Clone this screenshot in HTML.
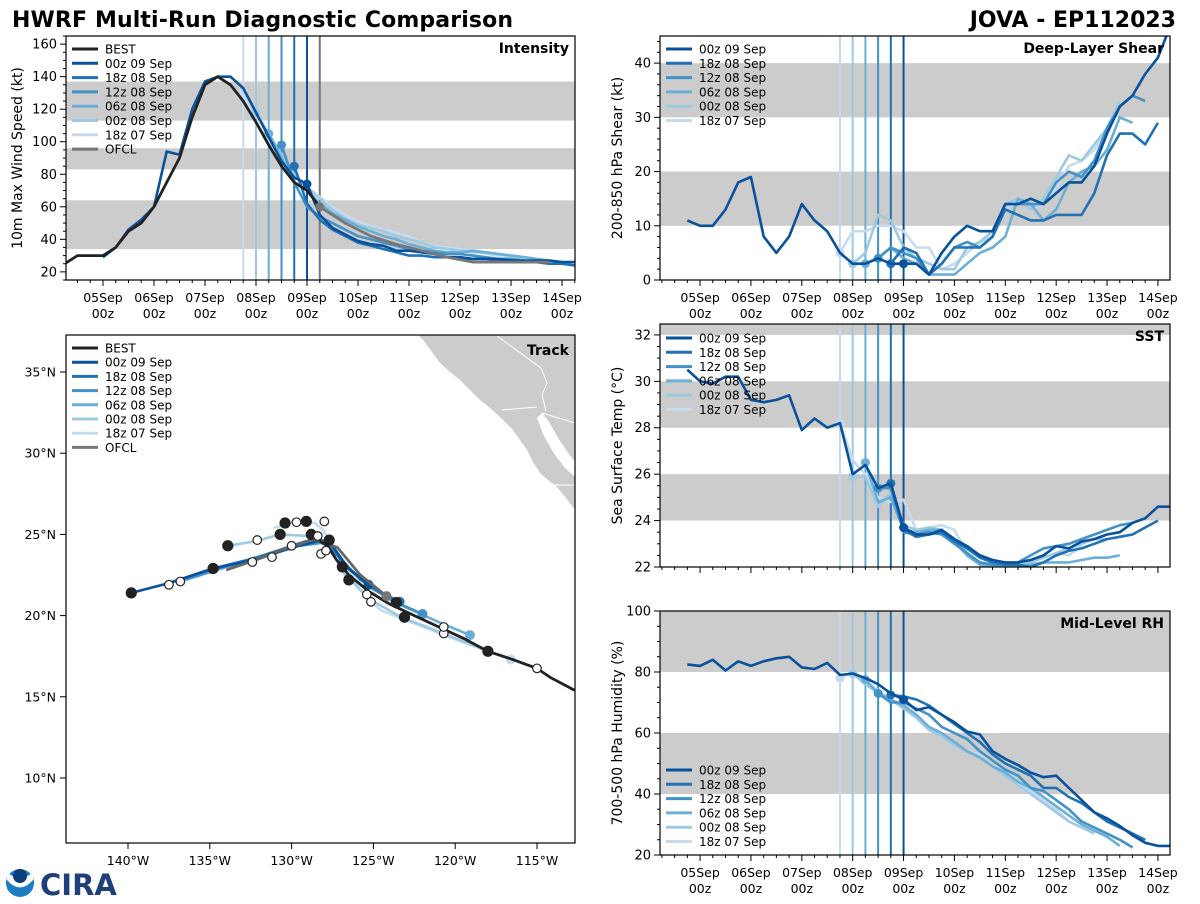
<!DOCTYPE html>
<html><head><meta charset="utf-8">
<style>
html,body{margin:0;padding:0;background:#fff;}
body{width:1200px;height:900px;overflow:hidden;position:relative;font-family:"DejaVu Sans","Liberation Sans",sans-serif;}
svg text{font-family:"DejaVu Sans","Liberation Sans",sans-serif;}
</style></head>
<body>
<svg id="fig" width="1200" height="900" viewBox="0 0 1200 900" xmlns="http://www.w3.org/2000/svg">
<text x="12" y="27" font-size="22" font-weight="bold" fill="#000" textLength="501">HWRF Multi-Run Diagnostic Comparison</text>
<text x="1176" y="27" font-size="22" font-weight="bold" fill="#000" text-anchor="end">JOVA - EP112023</text>
<g>
<circle cx="20" cy="883" r="14" fill="#1a7dc4"/>
<path d="M7 880 Q20 895 33 880 L33 872 Q20 884 7 872 Z" fill="#fff"/>
<circle cx="20" cy="876" r="7" fill="#0b3d7a"/>
<text x="40" y="895" font-size="29" font-weight="bold" fill="#1f3f7a" font-family="Liberation Serif,serif">CIRA</text>
</g>
</svg>
<script>
// ===== DATA =====
const runLabels = ["00z 09 Sep","18z 08 Sep","12z 08 Sep","06z 08 Sep","00z 08 Sep","18z 07 Sep"];
const runInit = [96, 90, 84, 78, 72, 66]; // hours from 05Sep 00z
const runColors = ["#08519c","#2171b5","#4292c6","#6baed6","#9ecae1","#c6dbef"];
const dayLabels = ["05Sep","06Sep","07Sep","08Sep","09Sep","10Sep","11Sep","12Sep","13Sep","14Sep"];

// Intensity (kt), 6-hourly from start hour
const bestStart = -18;
const bestVmax = [25,30,30,30,35,45,50,60,75,90,115,135,140,135,125,112,98,85,75,70,60];
const ofclStart = 102;
const ofclVmax = [60,50,42,37,33,29,26,26,26,26]; // 12-hourly
const intStarts = [0, 90, 84, 78, 72, 66];
const int00z09 = [29,35,46,52,60,94,92,120,137,140,140,133,118,103,88,78,74,55,47,43,39,37,36,33,33,32,31,29,29,28,28,28,27,27,27,27,26,26,26];
const int18z08 = [85,62,52,46,42,38,36,34,32,30,30,29,29,28,28,28,27,27,26,26,25,25,24];
const int12z08 = [98,75,60,54,50,46,42,40,38,36,34,33,32,31,31,30,29,28,28,27,26,25,25];
const int06z08 = [105,90,75,70,62,56,52,48,45,42,40,37,35,33,32,32,33,32,31,30,29,28,27];
const int00z08 = [118,105,92,80,72,65,58,53,49,47,45,42,40,38,35,34,33,32,32,31,30,29,28];
const int18z07 = [130,112,100,90,80,72,66,60,55,51,48,46,44,42,38,36,35,34,33,31,30,29,28];

// Shear (kt)
const shrStarts = [-6, 90, 84, 78, 72, 66];
const shr00z09 = [11,10,10,13,18,19,8,5,8,14,11,9,5,3,3,4,3,3,3,1,5,8,10,9,9,14,14,15,14,16,18,18,21,27,32,34,38,41,47];
const shr18z08 = [3,6,5,1,3,6,6,6,8,13,12,11,11,12,12,12,16,23,27,27,25,29];
const shr12z08 = [4,6,5,4,1,3,6,7,6,8,14,14,14,14,18,20,19,22,28,32,34,33];
const shr06z08 = [3,4,6,4,3,1,1,1,3,5,6,8,15,14,11,13,18,20,21,24,30,29];
const shr00z08 = [3,5,12,11,6,4,3,2,2,6,7,9,14,15,13,15,19,23,22,25,28,33];
const shr18z07 = [5,9,9,10,10,9,6,6,2,3,5,7,8,13,15,13,14,17,21,22,24,28,33];

// SST (C)
const sstStarts = [-6, 90, 84, 78, 72, 66];
const sst00z09 = [30.5,30.0,29.9,30.2,30.2,29.2,29.1,29.2,29.4,27.9,28.4,28.0,28.2,26.0,26.4,25.4,25.6,23.7,23.4,23.4,23.6,23.2,22.9,22.5,22.3,22.2,22.2,22.3,22.5,22.9,22.8,23.1,23.2,23.4,23.5,23.9,24.1,24.6,24.6];
const sst18z08 = [25.6,23.6,23.3,23.4,23.5,23.1,22.8,22.4,22.2,22.1,22.1,22.0,22.2,22.5,22.7,22.8,23.0,23.2,23.3,23.4,23.7,24.0];
const sst12z08 = [25.4,25.4,23.5,23.4,23.5,23.4,23.0,22.6,22.2,22.1,22.1,22.2,22.5,22.8,22.9,23.0,23.2,23.4,23.6,23.8,23.9];
const sst06z08 = [26.5,24.8,25.0,23.6,23.5,23.6,23.6,23.1,22.5,22.1,22.0,22.0,22.0,22.1,22.2,22.2,22.2,22.3,22.4,22.4,22.5];
const sst00z08 = [25.9,25.9,24.6,25.2,23.8,23.6,23.7,23.6,23.2,22.6,22.1,22.0,22.0,22.1,22.2,22.4,22.6,22.8,23.0,23.2,23.2];
const sst18z07 = [28.2,26.6,26.0,25.0,24.8,24.9,23.6,23.7,23.8,23.6,22.6,22.2,22.1,22.0,22.1,22.2,22.4,22.6,22.5,22.9];

// Mid-level RH (%)
const rhStarts = [-6, 90, 84, 78, 72, 66];
const rh00z09 = [82.5,82,84,80.5,83.5,82,83.5,84.5,85,81.5,81,83,79,79.5,78,76,73,71,67.5,68.5,66,63.5,60.5,59.5,54,51.5,49.5,47,45.5,46,42,38,34,32,29.5,26.5,24,23,23];
const rh18z08 = [72.5,72,71,69,66,63,60,57,53,50,48,46,42,42,39,37,34,31,29,27,25];
const rh12z08 = [73,70,70,68,66,62,60,58,54,51,48,46,42,41,38,35,31,29,27,25,22.5];
const rh06z08 = [77.5,73,71,69,66,62,60,57,54,52,49,47,44,42,39,36,33,30,28,26,23];
const rh00z08 = [79.5,76,73,71,68,65,61,59,56,54,52,49,46,43,40,37,34,31,29,27];
const rh18z07 = [78,80,77,74,71,68,66,62,59,57,54,53,51,48,44,41,38,35,31];

// Track (lon, lat)
const trkBestLon = [-112.7,-114.2,-115,-116.5,-118,-119.5,-121,-122.5,-124,-125.3,-126.5,-127.3,-127.8,-128.3];
const trkBestLat = [15.4,16.2,16.75,17.3,17.8,18.6,19.3,20.0,20.7,21.5,22.5,23.5,24.3,24.6];
const trkOfclLon = [-124.2,-125.8,-127.2,-128.6,-130.5,-132,-134];
const trkOfclLat = [21.2,22.5,24.2,24.7,24.1,23.5,22.8];
const trk00z09Lon = [-125.3,-126.6,-127.5,-128.3,-130,-132,-134.8,-137.5,-139.8];
const trk00z09Lat = [21.9,23.0,24.3,24.6,24.2,23.5,22.9,22.0,21.4];
const trk18z08Lon = [-123.4,-125.2,-126.7,-127.6,-128.4,-130,-132,-134.8,-137.5];
const trk18z08Lat = [20.85,21.8,23.0,24.3,24.8,24.3,23.6,22.9,22.0];
const trk12z08Lon = [-122,-124,-125.8,-127,-128,-129.5,-131.5,-134,-136.5];
const trk12z08Lat = [20.1,21.0,22.2,23.5,24.5,24.3,23.7,23.0,22.2];
const trk06z08Lon = [-119.1,-121,-123,-125,-126.5,-127.5,-128.5,-130.5,-132.5,-134];
const trk06z08Lat = [18.8,19.6,20.5,21.6,22.9,24.2,24.6,24.1,23.5,23.0];
const trk00z08Lon = [-118.0,-120.7,-123.3,-125.2,-126.8,-127.7,-129,-130.7,-132.1,-133.9];
const trk00z08Lat = [17.8,18.9,19.9,21.0,22.6,24.2,24.9,25.0,24.6,24.3];
const trk18z07Lon = [-116.6,-118.5,-120.7,-122.7,-124.5,-125.5,-126.6,-127.6,-128.1,-128.6,-129.6,-131.1];
const trk18z07Lat = [17.3,18.0,18.8,19.6,20.3,21.2,22.6,24.5,25.3,25.7,25.8,25.4];
const markLon = [-115,-118,-123.1,-123.6,-126.5,-126.9,-127.7,-128.8,-129.1,-130.4,-130.7,-133.9,-134.8,-139.8,-120.7,-120.7,-125.15,-125.4,-128.2,-127.9,-132.1,-130.0,-128.0,-129.7,-137.5,-136.8,-132.4,-131.2,-128.4];
const markLat = [16.75,17.8,19.9,20.8,22.2,23.0,24.65,25.0,25.8,25.7,25.0,24.3,22.9,21.4,18.9,19.3,20.85,21.3,23.8,24.0,24.65,24.3,25.8,25.75,21.9,22.1,23.3,23.6,24.9];
const markFill = [0,1,1,1,1,1,1,1,1,1,1,1,1,1,0,0,0,0,0,0,0,0,0,0,0,0,0,0,0];

// ===== DRAWING =====
const NS = "http://www.w3.org/2000/svg";
const svg = document.getElementById("fig");
function mk(tag, attrs, parent){
  const e = document.createElementNS(NS, tag);
  for (const k in attrs) e.setAttribute(k, attrs[k]);
  (parent||svg).appendChild(e);
  return e;
}
function txt(x,y,s,size,anchor,parent,extra){
  const t = mk("text",Object.assign({x:x,y:y,"font-size":size,"text-anchor":anchor||"start",fill:"#000"},extra||{}),parent);
  t.textContent = s;
  return t;
}

function makePanel(cfg){
  const g = mk("g",{});
  
  
  const sx = t => cfg.x0 + (t - cfg.tmin)/(cfg.tmax-cfg.tmin)*(cfg.x1-cfg.x0);
  const sy = v => cfg.y1 - (v - cfg.vmin)/(cfg.vmax-cfg.vmin)*(cfg.y1-cfg.y0);
  const cid = "clip-"+cfg.name;
  const cp = mk("clipPath",{id:cid},g);
  mk("rect",{x:cfg.x0,y:cfg.y0,width:cfg.x1-cfg.x0,height:cfg.y1-cfg.y0},cp);
  const plot = mk("g",{"clip-path":"url(#"+cid+")"},g);
  cfg.bands.forEach(b=>{
    const r = mk("rect",{x:cfg.x0,y:sy(b[1]),width:cfg.x1-cfg.x0,height:sy(b[0])-sy(b[1]),fill:"#cccccc"},plot);
    
    
  });
  for (let i=runInit.length-1;i>=0;i--){
    const l = mk("line",{x1:sx(runInit[i]),x2:sx(runInit[i]),y1:cfg.y0,y2:cfg.y1,stroke:runColors[i],"stroke-width":2},plot);
    
    
  }
  if (cfg.ofclLine){
    const l = mk("line",{x1:sx(102),x2:sx(102),y1:cfg.y0,y2:cfg.y1,stroke:"#777","stroke-width":2},plot);
    
    
  }
  for (let i=cfg.series.length-1;i>=0;i--){
    const vals = cfg.series[i], st = cfg.starts[i];
    const pts = vals.map((v,k)=>sx(st+6*k).toFixed(1)+","+sy(v).toFixed(1)).join(" ");
    const p = mk("polyline",{points:pts,fill:"none",stroke:runColors[i],"stroke-width":2.6,"stroke-linejoin":"round"},plot);
    
    
    const k = (runInit[i]-st)/6;
    if (k>=0 && k<vals.length){
      const c = mk("circle",{cx:sx(runInit[i]),cy:sy(vals[k]),r:4.5,fill:runColors[i]},plot);
      
      
    }
  }
  if (cfg.best){
    const p1 = mk("polyline",{points:ofclVmax.map((v,k)=>sx(ofclStart+12*k).toFixed(1)+","+sy(v).toFixed(1)).join(" "),fill:"none",stroke:"#777","stroke-width":2.8},plot);
    
    
    const p2 = mk("polyline",{points:bestVmax.map((v,k)=>sx(bestStart+6*k).toFixed(1)+","+sy(v).toFixed(1)).join(" "),fill:"none",stroke:"#222","stroke-width":2.8},plot);
    
    
    const c = mk("circle",{cx:sx(ofclStart),cy:sy(ofclVmax[0]),r:4.5,fill:"#777"},plot);
    
    
  }
  const fr = mk("rect",{x:cfg.x0,y:cfg.y0,width:cfg.x1-cfg.x0,height:cfg.y1-cfg.y0,fill:"none",stroke:"#000","stroke-width":1.2},g);
  
  
  for (let v=cfg.vmin; v<=cfg.vmax+1e-6; v+=cfg.minor){
    const vv = Math.round(v/cfg.minor)*cfg.minor;
    if (vv < cfg.vmin-1e-6) continue;
    const isMaj = Math.abs(vv/cfg.major - Math.round(vv/cfg.major))<1e-6;
    const y = sy(vv);
    mk("line",{x1:cfg.x0-(isMaj?6:3),x2:cfg.x0,y1:y,y2:y,stroke:"#000","stroke-width":1},g);
    if (isMaj){
      const t = txt(cfg.x0-9,y+4.5,String(Math.round(vv)),13,"end",g);
      
      
    }
  }
  for (let h=-18; h<=222; h+=6){
    if (h<cfg.tmin || h>cfg.tmax) continue;
    const isMaj = h%24===0 && h>=0 && h<=216;
    mk("line",{x1:sx(h),x2:sx(h),y1:cfg.y1,y2:cfg.y1+(isMaj?6:3),stroke:"#000","stroke-width":1},g);
  }
  if (cfg.xlabels){
    dayLabels.forEach((d,i)=>{
      const x = sx(i*24);
      const t1 = txt(x,cfg.y1+22,d,12.5,"middle",g);
      
      
      const t2 = txt(x,cfg.y1+38,"00z",12.5,"middle",g);
      
      
    });
  }
  const yc = (cfg.y0+cfg.y1)/2;
  const yt = txt(cfg.ytx,yc,cfg.ytitle,14,"middle",g,{transform:"rotate(-90 "+cfg.ytx+" "+yc+")"});
  
  
  const pt = txt(cfg.x1-6,cfg.y0+17,cfg.title,14,"end",g,{"font-weight":"bold"});
  
  
  const items = [];
  if (cfg.best) items.push(["BEST","#222"]);
  runLabels.forEach((l,i)=>items.push([l,runColors[i]]));
  if (cfg.best) items.push(["OFCL","#777"]);
  const lg = mk("g",{},g);
  
  
  items.forEach((it,i)=>{
    const y = cfg.legY + i*14.3;
    mk("line",{x1:cfg.x0+6,x2:cfg.x0+32,y1:y,y2:y,stroke:it[1],"stroke-width":3},lg);
    const t = txt(cfg.x0+39,y+4.5,it[0],12,"start",lg);
    
    
  });
}

makePanel({name:"intensity-panel",x0:66,x1:575,y0:36,y1:280,tmin:-17.4,tmax:222.1,vmin:15,vmax:165,major:20,minor:5,
  bands:[[34,64],[83,96],[113,137]],series:[int00z09,int18z08,int12z08,int06z08,int00z08,int18z07],starts:intStarts,
  best:true,ofclLine:true,xlabels:true,ytitle:"10m Max Wind Speed (kt)",ytx:22,title:"Intensity",legY:49});
makePanel({name:"shear-panel",x0:660,x1:1170,y0:36,y1:280,tmin:-18.9,tmax:221.7,vmin:0,vmax:45,major:10,minor:2,
  bands:[[10,20],[30,40]],series:[shr00z09,shr18z08,shr12z08,shr06z08,shr00z08,shr18z07],starts:shrStarts,
  xlabels:true,ytitle:"200-850 hPa Shear (kt)",ytx:622,title:"Deep-Layer Shear",legY:49});
makePanel({name:"sst-panel",x0:660,x1:1170,y0:324,y1:567,tmin:-18.9,tmax:221.7,vmin:22,vmax:32.47,major:2,minor:0.5,
  bands:[[24,26],[28,30],[32,34]],series:[sst00z09,sst18z08,sst12z08,sst06z08,sst00z08,sst18z07],starts:sstStarts,
  xlabels:false,ytitle:"Sea Surface Temp (°C)",ytx:622,title:"SST",legY:338});
makePanel({name:"rh-panel",x0:660,x1:1170,y0:611,y1:855,tmin:-18.9,tmax:221.7,vmin:20,vmax:100,major:20,minor:5,
  bands:[[40,60],[80,100]],series:[rh00z09,rh18z08,rh12z08,rh06z08,rh00z08,rh18z07],starts:rhStarts,
  xlabels:true,ytitle:"700-500 hPa Humidity (%)",ytx:622,title:"Mid-Level RH",legY:770});

// ===== TRACK PANEL =====
(function(){
  const x0=66,x1=575,y0=335,y1=843;
  const lx = lon => 128 + (lon+140)*16.36;
  const ly = lat => 372 + (35-lat)*16.24;
  const g = mk("g",{});
  
  
  const cp = mk("clipPath",{id:"clip-track"},g);
  mk("rect",{x:x0,y:y0,width:x1-x0,height:y1-y0},cp);
  const plot = mk("g",{"clip-path":"url(#clip-track)"},g);
  const land = mk("polygon",{points:"418,335 423,340 432,352 440,363 450,372 460,380 470,390 480,400 490,408 500,417 507,424 513,430 520,440 527,450 533,462 540,473 548,480 557,487 566,498 575,510 575,335",fill:"#cccccc"},plot);
  
  
  const gulf = mk("polygon",{points:"537,418 543,434 553,452 565,468 575,477 575,462 566,450 557,436 549,422 542,413",fill:"#fff"},plot);
  
  
  mk("polyline",{points:"497,336 541,368 547,383 542,395 546,411",fill:"none",stroke:"#fff","stroke-width":1},plot);
  mk("line",{x1:502,y1:410,x2:537,y2:407,stroke:"#fff","stroke-width":1},plot);
  mk("line",{x1:542,y1:413,x2:575,y2:423,stroke:"#fff","stroke-width":1},plot);
  mk("line",{x1:551,y1:485,x2:575,y2:485,stroke:"#fff","stroke-width":1},plot);
  const tracks = [[trk18z07Lon,trk18z07Lat,5],[trk00z08Lon,trk00z08Lat,4],[trk06z08Lon,trk06z08Lat,3],[trk12z08Lon,trk12z08Lat,2],[trk18z08Lon,trk18z08Lat,1],[trk00z09Lon,trk00z09Lat,0]];
  tracks.forEach(tr=>{
    const p = mk("polyline",{points:tr[0].map((lo,k)=>lx(lo).toFixed(1)+","+ly(tr[1][k]).toFixed(1)).join(" "),fill:"none",stroke:runColors[tr[2]],"stroke-width":2.6,"stroke-linejoin":"round"},plot);
    
    
    const c = mk("circle",{cx:lx(tr[0][0]),cy:ly(tr[1][0]),r:5,fill:runColors[tr[2]]},plot);
    
    
  });
  const of = mk("polyline",{points:trkOfclLon.map((lo,k)=>lx(lo).toFixed(1)+","+ly(trkOfclLat[k]).toFixed(1)).join(" "),fill:"none",stroke:"#666","stroke-width":2.8},plot);
  
  
  const bt = mk("polyline",{points:trkBestLon.map((lo,k)=>lx(lo).toFixed(1)+","+ly(trkBestLat[k]).toFixed(1)).join(" "),fill:"none",stroke:"#222","stroke-width":2.8},plot);
  
  
  const oc = mk("circle",{cx:lx(trkOfclLon[0]),cy:ly(trkOfclLat[0]),r:5,fill:"#777"},plot);
  
  
  markLon.forEach((lo,i)=>{
    const c = mk("circle",{cx:lx(lo),cy:ly(markLat[i]),r:markFill[i]?5:4.3,fill:markFill[i]?"#222":"#fff",stroke:"#222","stroke-width":1.2},plot);
    
    
  });
  const fr = mk("rect",{x:x0,y:y0,width:x1-x0,height:y1-y0,fill:"none",stroke:"#000","stroke-width":1.2},g);
  
  
  const t = txt(x1-6,y0+20,"Track",14,"end",g,{"font-weight":"bold"});
  
  
  [35,30,25,20,15,10].forEach(lat=>{
    const y = ly(lat);
    mk("line",{x1:x0-6,x2:x0,y1:y,y2:y,stroke:"#000","stroke-width":1},g);
    const l = txt(x0-10,y+4.5,lat+"°N",12.5,"end",g);
    
    
  });
  [-140,-135,-130,-125,-120,-115].forEach(lon=>{
    const x = lx(lon);
    mk("line",{x1:x,x2:x,y1:y1,y2:y1+6,stroke:"#000","stroke-width":1},g);
    const l = txt(x,y1+22,(-lon)+"°W",12.5,"middle",g);
    
    
  });
  const items = [["BEST","#222"]];
  runLabels.forEach((l,i)=>items.push([l,runColors[i]]));
  items.push(["OFCL","#777"]);
  const lg = mk("g",{},g);
  
  
  items.forEach((it,i)=>{
    const y = 348 + i*14.2;
    mk("line",{x1:72,x2:98,y1:y,y2:y,stroke:it[1],"stroke-width":3},lg);
    const tt = txt(105,y+4.5,it[0],12,"start",lg);
    
    
  });
})();
</script>
</body></html>
